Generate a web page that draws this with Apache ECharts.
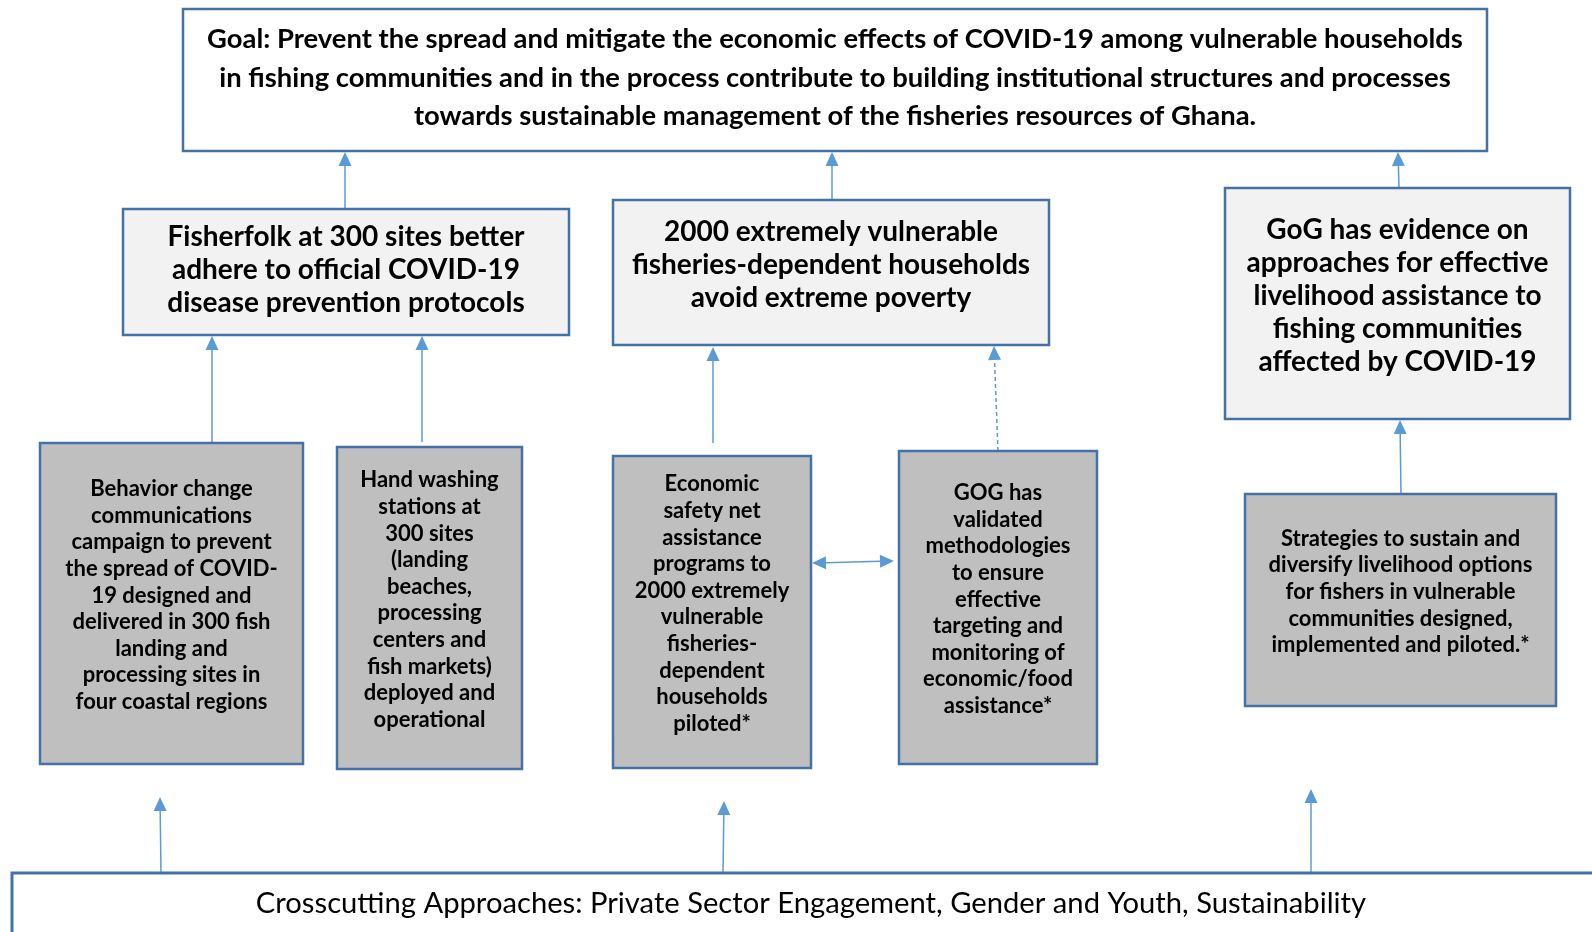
<!DOCTYPE html>
<html><head><meta charset="utf-8">
<script src="https://cdn.jsdelivr.net/npm/echarts@6/dist/echarts.min.js"></script>
<style>html,body{margin:0;padding:0;background:#fff}#c{width:1592px;height:932px}</style>
</head><body><div id="c"></div>
<script>
// ---- diagram content ----
const boxLabels = [
  "Goal: Prevent the spread and mitigate the economic effects of COVID-19 among vulnerable households\nin fishing communities and in the process contribute to building institutional structures and processes\ntowards sustainable management of the fisheries resources of Ghana.",
  "Fisherfolk at 300 sites better\nadhere to official COVID-19\ndisease prevention protocols",
  "2000 extremely vulnerable\nfisheries-dependent households\navoid extreme poverty",
  "GoG has evidence on\napproaches for effective\nlivelihood assistance to\nfishing communities\naffected by COVID-19",
  "Behavior change\ncommunications\ncampaign to prevent\nthe spread of COVID-\n19 designed and\ndelivered in 300 fish\nlanding and\nprocessing sites in\nfour coastal regions",
  "Hand washing\nstations at\n300 sites\n(landing\nbeaches,\nprocessing\ncenters and\nfish markets)\ndeployed and\noperational",
  "Economic\nsafety net\nassistance\nprograms to\n2000 extremely\nvulnerable\nfisheries-\ndependent\nhouseholds\npiloted*",
  "GOG has\nvalidated\nmethodologies\nto ensure\neffective\ntargeting and\nmonitoring of\neconomic/food\nassistance*",
  "Strategies to sustain and\ndiversify livelihood options\nfor fishers in vulnerable\ncommunities designed,\nimplemented and piloted.*",
  "Crosscutting Approaches: Private Sector Engagement, Gender and Youth, Sustainability"
];
const boxKind = ['goal','outcome','outcome','outcome','output','output','output','output','output','cross'];
// box extents in diagram units (x to the right, y downward)
const boxX0 = [183, 123, 613, 1225,  40, 337, 613, 899, 1245,   12];
const boxY0 = [  9, 209, 200,  188, 443, 447, 456, 451,  494,  873];
const boxX1 = [1487, 569, 1049, 1570, 303, 522, 811, 1097, 1556, 1610];
const boxY1 = [151, 335, 345,  419, 764, 769, 768, 764,  706,  990];
// vertical shift of each label from its box centre
const labelShift = [-2, -2, -8, -8, -8, -8, -8, -8, -8, 0];

// arrows: tail (x0,y0) -> tip (x1,y1)
const arrowX0 = [345, 832, 1399, 212, 422, 713, 998, 1401, 812, 161, 723, 1311];
const arrowY0 = [209, 200,  188, 443, 442, 443, 451,  494, 563, 873, 873,  873];
const arrowX1 = [345, 832, 1398, 212, 422, 713, 994, 1400, 894, 160, 724, 1311];
const arrowY1 = [152, 152,  152, 336, 336, 347, 346,  420, 561, 797, 801,  789];
const arrowDashed = [0,0,0,0,0,0,1,0,0,0,0,0];
const arrowDouble = [0,0,0,0,0,0,0,0,1,0,0,0];

// ---- styles ----
const STROKE = '#4472a6';
const ARROW = '#5b9bd5';
const styles = {
  goal:    {fill:'#ffffff', lw:2.5, font:'Lato, sans-serif', weight:'bold', size:27.4, lh:38.5},
  outcome: {fill:'#f2f2f2', lw:2.5, font:'Lato, sans-serif', weight:'bold', size:28, lh:33},
  output:  {fill:'#bfbfbf', lw:2.5, font:'Lato, sans-serif', weight:'bold', size:22, lh:26.6},
  cross:   {fill:'#ffffff', lw:3, font:'Lato, sans-serif', weight:'normal', size:29.2, lh:34}
};

const boxData = boxLabels.map((t, i) => [boxX0[i], boxY0[i], boxX1[i], boxY1[i]]);
const arrowData = arrowX0.map((x, i) => [x, arrowY0[i], arrowX1[i], arrowY1[i], arrowDashed[i], arrowDouble[i]]);

function renderBox(params, api) {
  const i = params.dataIndex;
  const st = styles[boxKind[i]];
  const p0 = api.coord([api.value(0), api.value(1)]);
  const p1 = api.coord([api.value(2), api.value(3)]);
  const cx = (p0[0] + p1[0]) / 2;
  const cy = boxKind[i] === 'cross' ? p0[1] + 31 : (p0[1] + p1[1]) / 2 + labelShift[i];
  return {
    type: 'group',
    children: [
      {type:'rect', shape:{x:p0[0], y:p0[1], width:p1[0]-p0[0], height:p1[1]-p0[1]},
       style:{fill:st.fill, stroke:STROKE, lineWidth:st.lw}},
      {type:'text', style:{text:boxLabels[i], x:cx, y:cy, align:'center', verticalAlign:'middle',
        textAlign:'center', textVerticalAlign:'middle',
        fontFamily:st.font, fontWeight:st.weight, fontSize:st.size, lineHeight:st.lh, fill:'#000'}}
    ]
  };
}

function head(tip, from, L, W) {
  const dx = tip[0] - from[0], dy = tip[1] - from[1];
  const len = Math.hypot(dx, dy) || 1;
  const ux = dx / len, uy = dy / len;
  const bx = tip[0] - ux * L, by = tip[1] - uy * L;
  return {
    base: [bx, by],
    poly: [[tip[0], tip[1]], [bx - uy * W, by + ux * W], [bx + uy * W, by - ux * W]]
  };
}

function renderArrow(params, api) {
  const a = api.coord([api.value(0), api.value(1)]);
  const b = api.coord([api.value(2), api.value(3)]);
  const dashed = api.value(4) === 1;
  const dbl = api.value(5) === 1;
  const L = 14, W = 6.5;
  const hb = head(b, a, L, W);
  const children = [];
  let start = a;
  if (dbl) {
    const ha = head(a, b, L, W);
    start = ha.base;
    children.push({type:'polygon', shape:{points:ha.poly}, style:{fill:ARROW}});
  }
  children.push({type:'line', shape:{x1:start[0], y1:start[1], x2:hb.base[0], y2:hb.base[1]},
    style:{stroke:ARROW, lineWidth:1.5, lineDash: dashed ? [4, 3] : null}});
  children.push({type:'polygon', shape:{points:hb.poly}, style:{fill:ARROW}});
  return {type:'group', children};
}

const chart = echarts.init(document.getElementById('c'), null, {renderer:'canvas'});
chart.setOption({
  animation: false,
  backgroundColor: '#ffffff',
  grid: {left:0, right:0, top:0, bottom:0},
  xAxis: {type:'value', min:0, max:1592, show:false},
  yAxis: {type:'value', min:0, max:932, inverse:true, show:false},
  series: [
    {type:'custom', renderItem:renderArrow, data:arrowData, encode:{x:[0,2], y:[1,3]}, clip:false, z:1, silent:true},
    {type:'custom', renderItem:renderBox, data:boxData, encode:{x:[0,2], y:[1,3]}, clip:false, z:2, silent:true}
  ]
});
</script></body></html>
